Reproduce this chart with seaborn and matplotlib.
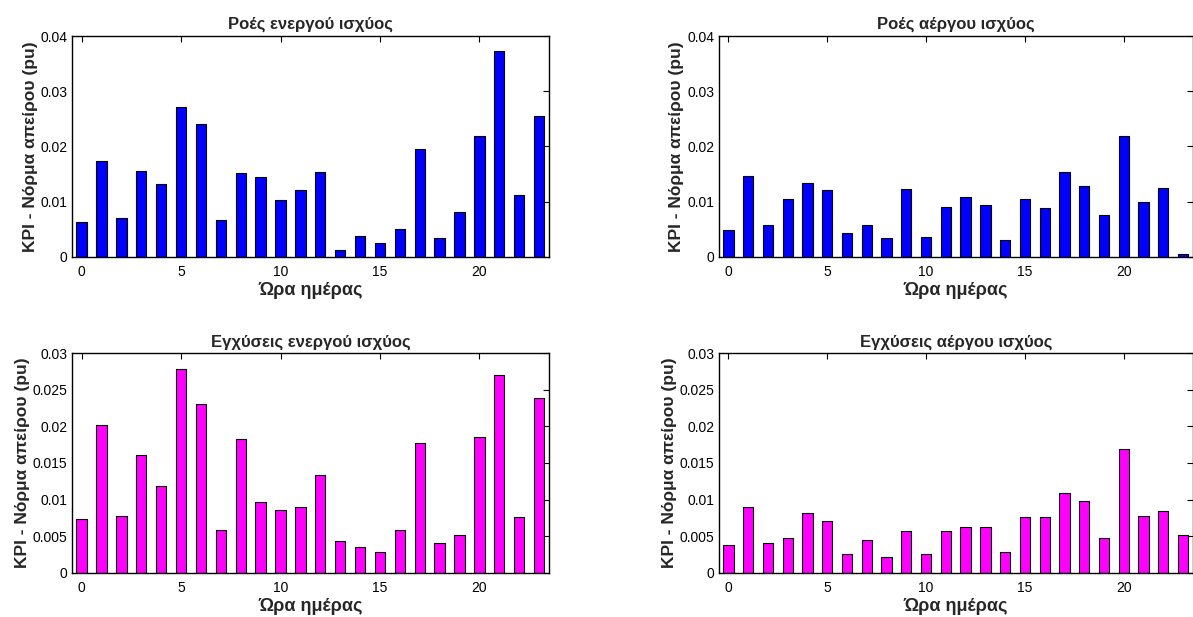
import matplotlib
matplotlib.use("Agg")
import matplotlib.pyplot as plt
from matplotlib.ticker import FuncFormatter
import seaborn as sns
import pandas as pd

hours = list(range(24))

flows_active = [0.0062, 0.0173, 0.0070, 0.0156, 0.0131, 0.0272, 0.0241, 0.0067,
                0.0152, 0.0144, 0.0102, 0.0121, 0.0154, 0.0013, 0.0038, 0.0024,
                0.0051, 0.0195, 0.0033, 0.0081, 0.0218, 0.0373, 0.0111, 0.0255]
flows_reactive = [0.0049, 0.0146, 0.0057, 0.0105, 0.0134, 0.0120, 0.0043, 0.0058,
                  0.0033, 0.0122, 0.0035, 0.0090, 0.0108, 0.0093, 0.0031, 0.0105,
                  0.0088, 0.0153, 0.0128, 0.0076, 0.0218, 0.0099, 0.0124, 0.0004]
inj_active = [0.0073, 0.0202, 0.0077, 0.0161, 0.0118, 0.0278, 0.0231, 0.0059,
              0.0183, 0.0096, 0.0086, 0.0090, 0.0133, 0.0044, 0.0035, 0.0028,
              0.0059, 0.0178, 0.0041, 0.0052, 0.0185, 0.0271, 0.0076, 0.0239]
inj_reactive = [0.0038, 0.0090, 0.0041, 0.0048, 0.0082, 0.0071, 0.0026, 0.0045,
                0.0022, 0.0057, 0.0025, 0.0057, 0.0063, 0.0063, 0.0028, 0.0076,
                0.0076, 0.0109, 0.0098, 0.0048, 0.0169, 0.0077, 0.0084, 0.0051]

titles = ["Ροές ενεργού ισχύος", "Ροές αέργου ισχύος",
          "Εγχύσεις ενεργού ισχύος", "Εγχύσεις αέργου ισχύος"]
xlabel = "Ώρα ημέρας"
ylabel = "KPI - Νόρμα απείρου (pu)"
xticks = [0, 5, 10, 15, 20]
yticks_top = [0, 0.01, 0.02, 0.03, 0.04]
yticks_bottom = [0, 0.005, 0.01, 0.015, 0.02, 0.025, 0.03]

sns.set_style("white")
plt.rcParams['font.family'] = ['Liberation Sans', 'DejaVu Sans']

W, H = 1193, 617
fig = plt.figure(figsize=(W / 100, H / 100), dpi=100)

def box(left, top, right, bottom):
    return [left / W, 1 - bottom / H, (right - left) / W, (bottom - top) / H]

panels = [
    (box(71.7, 36, 549, 256.7), flows_active, "#0000ff", yticks_top, 0.04),
    (box(718.5, 36, 1193, 256.7), flows_reactive, "#0000ff", yticks_top, 0.04),
    (box(71.7, 353.3, 549, 572.7), inj_active, "#ff00ff", yticks_bottom, 0.03),
    (box(718.5, 353.3, 1193, 572.7), inj_reactive, "#ff00ff", yticks_bottom, 0.03),
]

fmt = FuncFormatter(lambda v, p: "0" if v == 0 else ("%g" % v))

for (rect, vals, color, yt, ymax), title in zip(panels, titles):
    ax = fig.add_axes(rect)
    df = pd.DataFrame({"hour": hours, "kpi": vals})
    sns.barplot(data=df, x="hour", y="kpi", native_scale=True, color=color,
                saturation=1, width=0.52, edgecolor="black", linewidth=0.8, ax=ax)
    ax.set_xlim(-0.5, 23.5)
    ax.set_ylim(0, ymax)
    ax.set_xticks(xticks)
    ax.set_yticks(yt)
    ax.yaxis.set_major_formatter(fmt)
    ax.tick_params(direction="in", length=4, width=0.8, top=True, right=True,
                   labelsize=10, colors="black")
    ax.tick_params(axis="x", pad=6)
    ax.tick_params(axis="y", pad=3)
    for s in ax.spines.values():
        s.set_color("black")
        s.set_linewidth(1.0)
    ax.set_title(title, fontsize=12, fontweight="bold", pad=5)
    ax.set_xlabel(xlabel, fontsize=13, fontweight="bold", labelpad=2)
    ax.set_ylabel(ylabel, fontsize=12.5, fontweight="bold", labelpad=2)

fig.savefig("out.png", dpi=100)
